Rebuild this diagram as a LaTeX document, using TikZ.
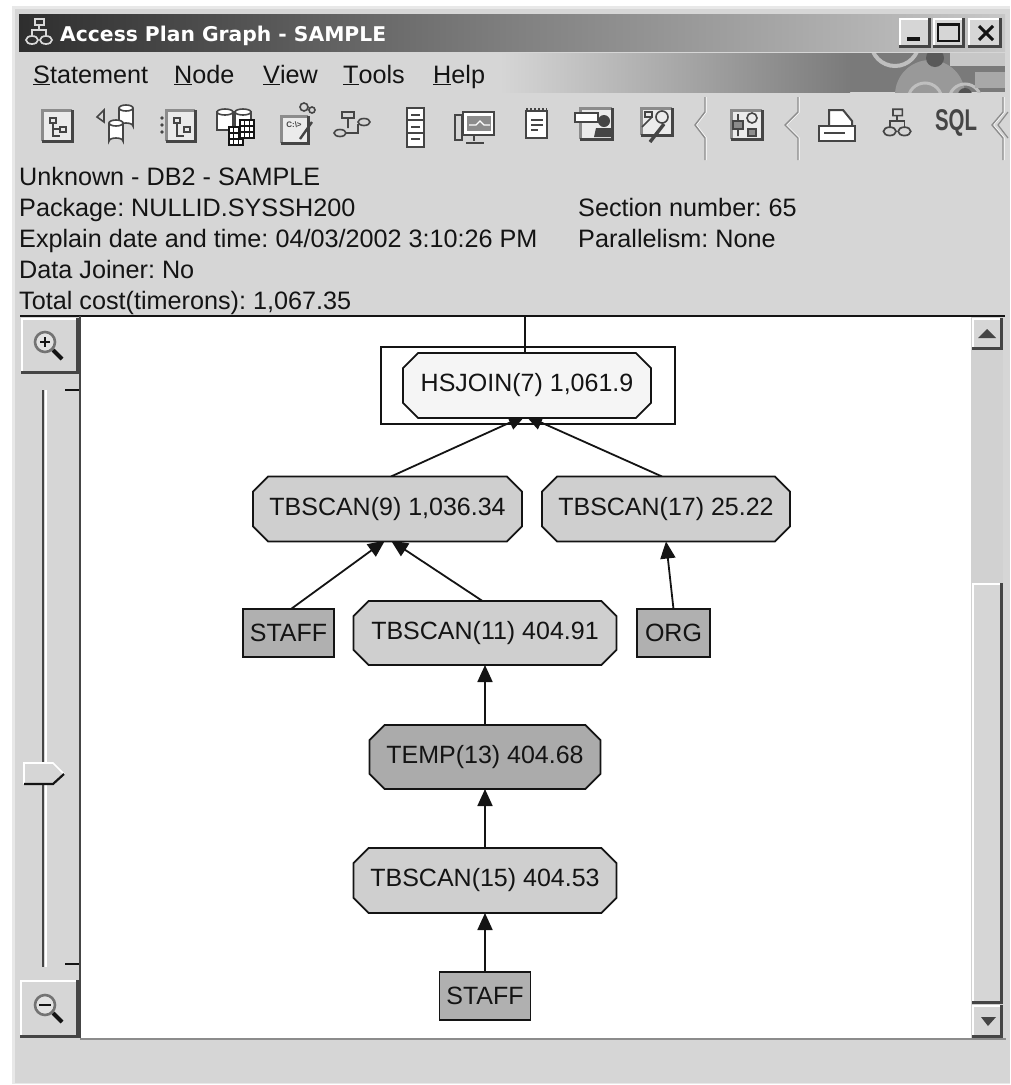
\documentclass[tikz,border=0pt]{standalone}
\usepackage{fontspec}
\setmainfont{Liberation Sans}
\newfontfamily\titlefont{DejaVu Sans}
\usetikzlibrary{shapes.misc,arrows.meta,calc}
\pgfdeclarelayer{chrome}\pgfdeclarelayer{links}
\pgfsetlayers{chrome,links,main}
\definecolor{win}{HTML}{D6D6D6}
\definecolor{ink}{HTML}{141414}
\definecolor{shadow}{HTML}{454545}
\definecolor{mid}{HTML}{8C8C8C}
\frenchspacing
\newcommand{\bevelbox}[4]{%
  \fill[win] (#1,#2) rectangle (#3,#4);
  \draw[white,line width=1.8pt] (#1+1,#4-2) -- (#1+1,#2+1) -- (#3-2,#2+1);
  \draw[shadow,line width=3.4pt] (#1,#4-1.5) -- (#3-1.5,#4-1.5) -- (#3-1.5,#2);
}
\newcommand{\minitree}[4]{%
  \begin{scope}[shift={(#1,#2)},scale=#3]
    \draw[draw=#4,line width=1.7pt] (-2,-14) rectangle (7,-8) (-5,7) ellipse (6 and 4) (9,7) ellipse (6 and 4);
    \draw[draw=#4,line width=1.7pt] (2,-8) -- (2,-3) (-5,3) -- (-5,-3) -- (9,-3) -- (9,3);
  \end{scope}
}
\newcommand{\winicon}[4]{%
  \fill[white!92!black] (#1,#2) rectangle (#3,#4);
  \draw[mid,line width=3pt] (#1,#4) -- (#1,#2) -- (#3,#2);
  \draw[shadow,line width=3pt] (#1,#4) -- (#3,#4) -- (#3,#2);
}
\newcommand{\chev}[2]{%
  \draw[white,line width=1.4pt] (#1+1,97) -- (#1+1,112) -- (#2+1,125) -- (#1+1,138) -- (#1+1,160);
  \draw[mid,line width=1.4pt] (#1,97) -- (#1,112) -- (#2,125) -- (#1,138) -- (#1,160);
}
\newcommand{\magnifier}[2]{%
  \begin{scope}[shift={(#1,#2)}]
    \draw[black!55,line width=2.6pt,fill=win!70!white] (0,0) circle (10);
    \draw[ink,line width=4pt] (8,8) -- (17,17);
  \end{scope}
}
\tikzset{
  x=1pt,y=-1pt,
  ic/.style={draw=shadow,line width=1.6pt,fill=none},
  uitext/.style={anchor=base west,inner sep=0pt,font=\fontsize{25.2}{26}\selectfont,text=ink},
  opnode/.style={chamfered rectangle,chamfered rectangle angle=45,chamfered rectangle xsep=16pt,
    draw=ink,line width=1.8pt,inner sep=0pt,outer sep=0pt,text=ink,font=\fontsize{25}{26}\selectfont},
  tablenode/.style={rectangle,draw=ink,line width=1.8pt,fill=tablefill,inner sep=0pt,outer sep=0pt,
    text=ink,font=\fontsize{25}{26}\selectfont},
  link/.style={draw=ink,line width=1.8pt,-{Triangle[length=17pt,width=15pt]}},
}
\colorlet{tablefill}{black!31}
\begin{document}
\begin{tikzpicture}
\useasboundingbox (0,0) rectangle (1010,1085);
\begin{pgfonlayer}{chrome}
  \fill[white] (0,0) rectangle (1010,1085);
  \fill[black!9] (12,6) rectangle (1010,1084);
  \fill[win] (15,9) rectangle (1010,1083);
  % title bar
  \shade[left color=black!82,right color=black!22,middle color=black!50] (19,14) rectangle (1005,51);
  % banner
  \shade[left color=win,right color=black!52] (500,53) rectangle (850,92);
  \begin{scope}
    \clip (850,53) rectangle (1005,92);
    \fill[black!52] (850,53) rectangle (1005,92);
    \fill[black!40] (930,95) circle (35);
    \draw[black!25,line width=4pt] (895,42) circle (24);
    \fill[black!22] (950,53) rectangle (1005,66);
    \fill[black!65] (935,58) circle (9);
    \draw[black!25,line width=3pt] (925,100) circle (17) (965,100) circle (16);
    \fill[black!68] (965,95) circle (7);
    \fill[black!34] (975,72) rectangle (1005,88);
  \end{scope}
  % toolbar icons
  \winicon{42}{110}{72}{141}
  \draw[ic] (50,118) rectangle (56,123) (60,127) rectangle (66,132) (53,123) -- (53,136) -- (60,136) (53,129) -- (60,129);
  \foreach \cx/\cy in {126/118,116/133} {
    \draw[ic,fill=white] (\cx-7,\cy-10) -- (\cx-7,\cy+8) arc (180:360:7 and 3) -- (\cx+7,\cy-10);
    \draw[ic,fill=white] (\cx,\cy-10) ellipse (7 and 3);
  }
  \draw[ic] (97,117) -- (104,110) -- (104,122) -- cycle;
  \winicon{166}{110}{195}{141}
  \draw[ic] (174,118) rectangle (180,123) (184,127) rectangle (190,132) (177,123) -- (177,136) -- (184,136);
  \fill[shadow] (162,118) circle (1.8) (162,125) circle (1.8) (162,132) circle (1.8);
  \foreach \cx in {225,243} {
    \draw[ic,fill=white] (\cx-8,112) rectangle (\cx+8,130);
    \draw[ic,fill=white] (\cx,112) ellipse (8 and 3);
  }
  \foreach \gx/\gy in {229/127,240/120} {
    \fill[white] (\gx,\gy) rectangle (\gx+14,\gy+18);
    \draw[ink,line width=1.1pt] (\gx+4.6,\gy) -- (\gx+4.6,\gy+18) (\gx+9.3,\gy) -- (\gx+9.3,\gy+18)
      (\gx,\gy+6) -- (\gx+14,\gy+6) (\gx,\gy+12) -- (\gx+14,\gy+12);
    \draw[ink,line width=1.5pt] (\gx,\gy) rectangle (\gx+14,\gy+18);
  }
  \winicon{281}{116}{308}{143}
  \node[inner sep=0pt,font=\fontsize{8}{8}\selectfont\bfseries,text=shadow] (dosprompt) at (294,125) {C:\textbackslash>};
  \draw[ic] (304,107) circle (4) (312,110) circle (3);
  \draw[shadow,line width=2.4pt] (312,122) -- (300,139);
  \draw[ic] (342,112) rectangle (354,118) (340,133) ellipse (6 and 3.5) (364,122) ellipse (6 and 3.5) (348,118) -- (348,128);
  \draw[ic] (346,133) -- (358,133) -- (358,124);
  \draw[ic,fill=white] (407,108) rectangle (424,147);
  \draw[ic] (411,115) -- (420,115) (411,127) -- (420,127) (411,139) -- (420,139) (407,120) -- (424,120) (407,133) -- (424,133);
  \draw[ic,fill=white] (463,112) rectangle (494,135);
  \fill[mid] (467,116) rectangle (491,131);
  \draw[white,line width=1.2pt] (469,125) -- (476,125) -- (480,121) -- (484,125) -- (490,125);
  \draw[ic] (455,115) rectangle (462,140) (474,135) -- (474,141) (466,143) -- (484,143);
  % notepad
  \draw[ic,fill=white] (526,111) rectangle (547,138);
  \draw[ic] (531,120) -- (543,120) (531,125) -- (543,125) (531,130) -- (538,130);
  \draw[shadow,line width=1.4pt,dash pattern=on 2pt off 2pt] (526,109) -- (547,109);
  \winicon{580}{108}{612}{139}
  \fill[shadow] (604,121) circle (6) (594,137) -- (596,128) -- (612,128) -- (612,137) -- cycle;
  \draw[ic,fill=white] (575,113) rectangle (598,122);
  \winicon{641}{108}{672}{135}
  \draw[ic] (645,112) rectangle (652,117) (642,127) -- (652,117) (662,117) circle (6);
  \draw[shadow,line width=3.4pt] (650,142) -- (664,124);
  \chev{705}{695}
  \winicon{731}{110}{762}{139}
  \draw[ic] (738,114) -- (738,136) (752,118) circle (5);
  \draw[ic,fill=mid] (733,121) rectangle (743,129) (748,129) rectangle (756,136);
  \chev{798}{785}
  % printer
  \draw[ic,line width=2pt,fill=white] (829,110) -- (843,110) -- (852,121) -- (852,128) -- (829,128) -- cycle;
  \draw[ic,line width=2.4pt,fill=white] (819,126) -- (855,126) -- (855,141) -- (819,141) -- cycle;
  \draw[ic] (824,133) -- (845,133);
  \minitree{895}{124}{1.05}{shadow}
  \node[inner sep=0pt,font=\fontsize{30}{30}\selectfont\bfseries,text=shadow,xscale=.68] (sqlicon) at (956,123) {SQL};
  \chev{1003}{992}
  \draw[mid,line width=1.2pt] (1008,112) -- (998,125) -- (1008,138);
  % title buttons
  \bevelbox{899}{18}{931}{48}
  \fill[ink] (907,37) rectangle (920,41);
  \bevelbox{933}{18}{965}{48}
  \draw[ink,line width=1.6pt] (938,24) rectangle (959,41);
  \draw[ink,line width=3pt] (938,24) -- (959,24);
  \bevelbox{968}{18}{1002}{48}
  \draw[ink,line width=3pt] (979,26) -- (993,40) (993,26) -- (979,40);
  % title icon
  \minitree{37}{33}{1}{white!85!black}
  % canvas and panels
  \fill[white] (80,316) rectangle (972,1038);
  \draw[ink,line width=1.8pt] (20,316) -- (1005,316);
  \draw[shadow,line width=1.8pt] (80,316) -- (80,1038);
  \draw[black!45,line width=1.8pt] (80,1039) -- (1006,1039);
  % zoom buttons
  \bevelbox{21}{318}{79}{374}
  \magnifier{45}{342}
  \draw[ink,line width=1.4pt] (40,342) -- (50,342) (45,337) -- (45,347);
  \bevelbox{20}{980}{79}{1038}
  \magnifier{45}{1005}
  \draw[ink,line width=1.4pt] (39,1005) -- (51,1005);
  % slider
  \draw[white,line width=2pt] (46,390) -- (46,967);
  \draw[shadow,line width=2.8pt] (43,390) -- (43,967);
  \draw[ink,line width=1.6pt] (65,390) -- (79,390) (65,964) -- (79,964);
  \fill[win] (24,763) -- (53,763) -- (64,774) -- (53,784) -- (24,784) -- cycle;
  \draw[white,line width=1.6pt] (24,784) -- (24,763) -- (53,763) -- (64,774);
  \draw[ink,line width=2.2pt] (24,784) -- (53,784) -- (64,774);
  % scrollbar
  \fill[black!18] (971,317) rectangle (1003,1038);
  \bevelbox{972}{318}{1003}{350}
  \fill[shadow] (987,329) -- (996,338) -- (978,338) -- cycle;
  \bevelbox{972}{583}{1003}{1004}
  \bevelbox{972}{1005}{1003}{1038}
  \fill[shadow] (981,1017) -- (996,1017) -- (988,1026) -- cycle;
  % selection frame
  \draw[ink,line width=1.8pt] (381,347) rectangle (675,424);
\end{pgfonlayer}

% texts
\node[anchor=base west,inner sep=0pt,text=white,font=\titlefont\bfseries\fontsize{20.3}{21}\selectfont] (wintitle) at (60,41) {Access Plan Graph - SAMPLE};
\node[uitext] (m1) at (33,83) {\underline{S}tatement};
\node[uitext] (m2) at (174,83) {\underline{N}ode};
\node[uitext] (m3) at (263,83) {\underline{V}iew};
\node[uitext] (m4) at (343,83) {\underline{T}ools};
\node[uitext] (m5) at (433,83) {\underline{H}elp};
\node[uitext] (l1) at (19,185) {Unknown - DB2 - SAMPLE};
\node[uitext] (l2) at (19,216) {Package: NULLID.SYSSH200};
\node[uitext] (l3) at (19,247) {Explain date and time: 04/03/2002 3:10:26 PM};
\node[uitext] (l4) at (19,278) {Data Joiner: No};
\node[uitext] (l5) at (19,309) {Total cost(timerons): 1,067.35};
\node[uitext] (r1) at (578,216) {Section number: 65};
\node[uitext] (r2) at (578,247) {Parallelism: None};

% plan nodes
\node[opnode,fill=black!4,minimum width=248pt,minimum height=65pt] (hs) at (527,385.5) {HSJOIN(7) 1,061.9};
\node[opnode,fill=black!19,minimum width=269pt,minimum height=65pt] (t9) at (387.5,509) {TBSCAN(9) 1,036.34};
\node[opnode,fill=black!19,minimum width=248pt,minimum height=65pt] (t17) at (666,509) {TBSCAN(17) 25.22};
\node[tablenode,minimum width=91pt,minimum height=48pt] (staffa) at (288.5,633) {STAFF};
\node[opnode,fill=black!19,minimum width=263pt,minimum height=64pt] (t11) at (485,633) {TBSCAN(11) 404.91};
\node[tablenode,minimum width=73pt,minimum height=48pt] (org) at (673.5,633) {ORG};
\node[opnode,fill=black!33,minimum width=231pt,minimum height=64pt] (temp) at (485,757) {TEMP(13) 404.68};
\node[opnode,fill=black!19,minimum width=263pt,minimum height=65pt] (t15) at (485,880.5) {TBSCAN(15) 404.53};
\node[tablenode,minimum width=91pt,minimum height=48pt] (staffb) at (485,996) {STAFF};

% connector ends inside the nodes
\coordinate (toptop) at (525,316);
\coordinate (hsa) at ($(hs.south)+(-1.5,-2.5)$);
\coordinate (t9a) at ($(t9.south)+(-2.5,-1)$);
\coordinate (t9b) at ($(t9.south)+(3.5,-1)$);
\coordinate (t9from) at ($(t9.north)+(3.5,0)$);
\coordinate (t17from) at ($(t17.north)+(-4,0)$);
\coordinate (sfrom) at ($(staffa.north)+(2.5,0)$);
\coordinate (t11from) at ($(t11.north)+(-2.5,0)$);

\begin{pgfonlayer}{links}
  \draw[draw=ink,line width=1.8pt] (toptop) -- (hs.north -| toptop);
  \draw[link] (t9from) -- (hsa);
  \draw[link] (t17from) -- (hsa);
  \draw[link] (sfrom) -- (t9a);
  \draw[link] (t11from) -- (t9b);
  \draw[link] (org.north) -- (t17.south);
  \draw[link] (temp.north) -- (t11.south);
  \draw[link] (t15.north) -- (temp.south);
  \draw[link] (staffb.north) -- (t15.south);
\end{pgfonlayer}
\end{tikzpicture}
\end{document}
